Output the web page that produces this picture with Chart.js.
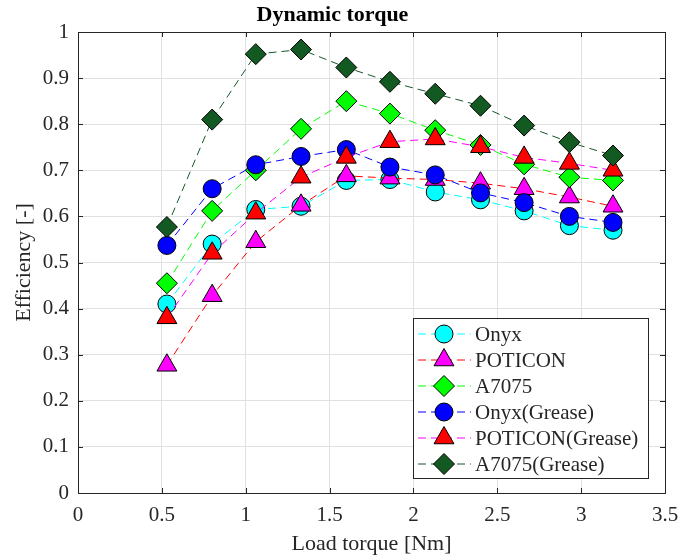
<!DOCTYPE html>
<html>
<head>
<meta charset="utf-8">
<script src="https://cdn.jsdelivr.net/npm/chart.js@4.4.1/dist/chart.umd.min.js"></script>
<style>
  html, body { margin: 0; padding: 0; background: #fff; }
  #wrap { width: 697px; height: 558px; }
</style>
</head>
<body>
<div id="wrap"><canvas id="c"></canvas></div>
<script>
// load torque [Nm]
const torque = [0.53, 0.8, 1.06, 1.33, 1.6, 1.86, 2.13, 2.4, 2.66, 2.93, 3.19];

// efficiency per gear material
const onyx = [0.41, 0.54, 0.615, 0.622, 0.678, 0.68, 0.653, 0.636, 0.612, 0.58, 0.57];
const poticon = [0.277, 0.428, 0.545, 0.624, 0.688, 0.683, 0.68, 0.672, 0.66, 0.642, 0.622];
const a7075 = [0.455, 0.612, 0.7, 0.79, 0.85, 0.823, 0.787, 0.755, 0.713, 0.685, 0.678];
const onyxGrease = [0.537, 0.66, 0.712, 0.73, 0.745, 0.707, 0.69, 0.651, 0.63, 0.6, 0.587];
const poticonGrease = [0.38, 0.52, 0.607, 0.685, 0.728, 0.762, 0.768, 0.751, 0.728, 0.715, 0.7];
const a7075Grease = [0.577, 0.81, 0.952, 0.962, 0.923, 0.892, 0.866, 0.84, 0.797, 0.761, 0.732];

const seriesNames = ['Onyx', 'POTICON', 'A7075', 'Onyx(Grease)', 'POTICON(Grease)', 'A7075(Grease)'];
const seriesValues = [onyx, poticon, a7075, onyxGrease, poticonGrease, a7075Grease];
const lineColors = ['#00ffff', '#ff0000', '#00ff00', '#0000ff', '#ff00ff', '#14572a'];
const markerColors = ['#00ffff', '#ff00ff', '#00ff00', '#0000ff', '#ff0000', '#135a22'];
const markerShapes = ['circle', 'triangle', 'rectRot', 'circle', 'triangle', 'rectRot'];
const markerSizes = { circle: 9, triangle: 11.5, rectRot: 10.5 };

const xTicks = [0, 0.5, 1, 1.5, 2, 2.5, 3, 3.5];
const yTicks = [0, 0.1, 0.2, 0.3, 0.4, 0.5, 0.6, 0.7, 0.8, 0.9, 1];

const FONT = '"Liberation Serif", "DejaVu Serif", serif';
const INK = '#262626';
const fmt = v => String(Math.round(v * 10) / 10);

const datasets = seriesNames.map((name, i) => ({
  label: name,
  data: torque.map((t, j) => ({ x: t, y: seriesValues[i][j] })),
  showLine: true,
  borderColor: lineColors[i],
  borderWidth: 1,
  borderDash: [8, 5],
  pointStyle: markerShapes[i],
  pointRadius: markerSizes[markerShapes[i]],
  pointBackgroundColor: markerColors[i],
  pointBorderColor: '#000',
  pointBorderWidth: 1,
  order: seriesNames.length - i
}));

// box + inward ticks like matlab axes
const boxTicks = {
  id: 'boxTicks',
  afterDatasetsDraw(chart) {
    const { ctx, chartArea: a, scales } = chart;
    ctx.save();
    ctx.strokeStyle = INK;
    ctx.lineWidth = 1;
    ctx.beginPath();
    xTicks.forEach(v => {
      const px = Math.round(scales.x.getPixelForValue(v)) + 0.5;
      ctx.moveTo(px, a.bottom); ctx.lineTo(px, a.bottom - 5);
      ctx.moveTo(px, a.top); ctx.lineTo(px, a.top + 5);
    });
    yTicks.forEach(v => {
      const py = Math.round(scales.y.getPixelForValue(v)) + 0.5;
      ctx.moveTo(a.left, py); ctx.lineTo(a.left + 5, py);
      ctx.moveTo(a.right, py); ctx.lineTo(a.right - 5, py);
    });
    ctx.stroke();
    ctx.strokeRect(Math.round(a.left) + 0.5, Math.round(a.top) + 0.5,
      Math.round(a.right - a.left), Math.round(a.bottom - a.top));
    ctx.restore();
  }
};

// legend inside the axes, lower right
const boxLegend = {
  id: 'boxLegend',
  afterDraw(chart) {
    const { ctx } = chart;
    const x0 = 413, y0 = 318, w = 235, h = 160;
    ctx.save();
    ctx.fillStyle = '#fff';
    ctx.fillRect(x0, y0, w, h);
    ctx.strokeStyle = INK;
    ctx.lineWidth = 1;
    ctx.strokeRect(x0 + 0.5, y0 + 0.5, w, h);
    ctx.font = '21px ' + FONT;
    ctx.textBaseline = 'middle';
    seriesNames.forEach((name, i) => {
      const cy = y0 + 16 + i * 26;
      ctx.strokeStyle = lineColors[i];
      ctx.setLineDash([8, 5]);
      ctx.beginPath();
      ctx.moveTo(x0 + 5, cy); ctx.lineTo(x0 + 58, cy);
      ctx.stroke();
      ctx.setLineDash([]);
      ctx.fillStyle = markerColors[i];
      ctx.strokeStyle = '#000';
      Chart.helpers.drawPoint(ctx, {
        pointStyle: markerShapes[i],
        radius: markerSizes[markerShapes[i]],
        rotation: 0,
        borderWidth: 1
      }, x0 + 31, cy);
      ctx.fillStyle = INK;
      ctx.fillText(name, x0 + 62, cy + 1);
    });
    ctx.restore();
  }
};

new Chart(document.getElementById('c'), {
  type: 'scatter',
  data: { datasets },
  options: {
    responsive: true,
    maintainAspectRatio: false,
    animation: false,
    layout: { padding: { left: 0, right: 32, top: 0, bottom: 0 } },
    plugins: {
      legend: { display: false },
      tooltip: { enabled: false },
      title: {
        display: true,
        text: 'Dynamic torque',
        color: '#000',
        font: { family: FONT, size: 22, weight: 'bold' },
        padding: { top: 2, bottom: 3.6 }
      }
    },
    scales: {
      x: {
        type: 'linear',
        min: 0, max: 3.5,
        afterBuildTicks: s => { s.ticks = xTicks.map(v => ({ value: v })); },
        afterFit: s => { s.height = 65; },
        ticks: { color: INK, font: { family: FONT, size: 21 }, padding: 10, callback: fmt },
        grid: { color: '#e0e0e0', drawTicks: false },
        border: { color: INK },
        title: {
          display: true,
          text: 'Load torque [Nm]',
          color: INK,
          font: { family: FONT, size: 22 },
          padding: { top: 0, bottom: 1 }
        }
      },
      y: {
        min: 0, max: 1,
        afterBuildTicks: s => { s.ticks = yTicks.map(v => ({ value: v })); },
        afterFit: s => { s.width = 78; },
        ticks: { color: INK, font: { family: FONT, size: 21 }, padding: 9, callback: fmt },
        grid: { color: '#e0e0e0', drawTicks: false },
        border: { color: INK },
        title: {
          display: true,
          text: 'Efficiency [-]',
          color: INK,
          font: { family: FONT, size: 22 },
          padding: { top: 11, bottom: 0 }
        }
      }
    }
  },
  plugins: [boxTicks, boxLegend]
});
</script>
</body>
</html>
